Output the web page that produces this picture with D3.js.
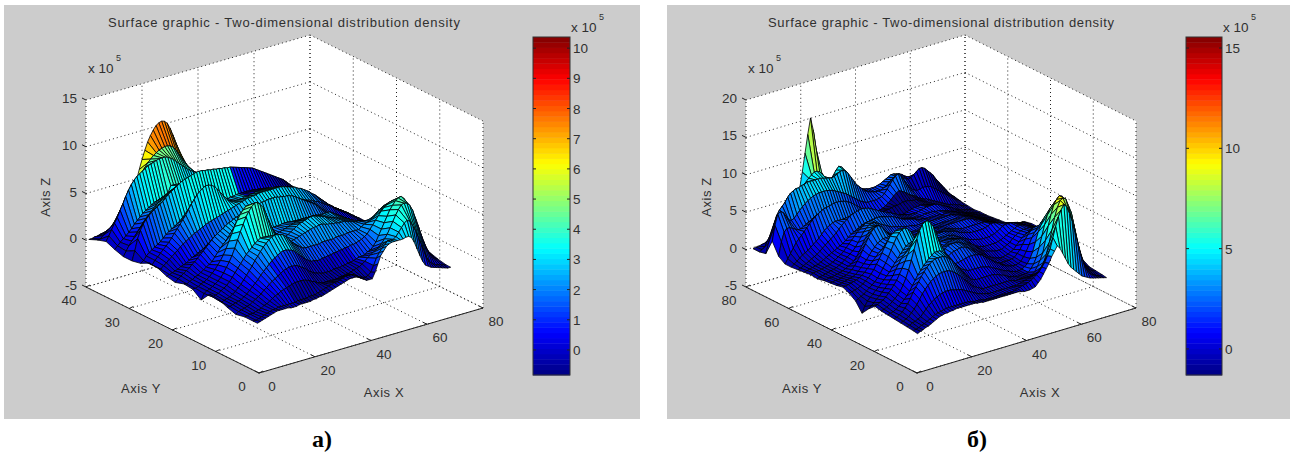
<!DOCTYPE html>
<html>
<head>
<meta charset="utf-8">
<script src="https://cdn.jsdelivr.net/npm/d3@7"></script>
<style>
  html, body { margin: 0; padding: 0; background: #fff; }
  text { font-family: "Liberation Sans", Arial, sans-serif; fill: #303030; }
</style>
</head>
<body>
<svg id="chart" width="1290" height="455"></svg>
<script>
const titleText = 'Surface graphic - Two-dimensional distribution density';
const captions = ['а)', 'б)'];

// surface a): one row per y, back to front, one value per x (1..70), in units of 10^4
const xGrid = d3.range(1, 71);
const yGridA = [40,38,36,34,32,30,28,26,24,22,20,18,16,14,12,10,8,6,4,2,1];
const zA = [
  [0,0,1,1,2,2,3,3,4,6, 8,11,14,19,24,31,39,48,59,69, 78,86,92,97,101,103,104,103,100,94, 86,77,68,58,48,40,33,28,24,21, 18,16,14,12,11,10,9,8,7,7, 6,6,5,5,4,4,3,3,3,3, 2,2,2,2,1,1,1,1,0,0],
  [4,4,7,9,11,13,16,19,23,27, 32,37,42,47,52,57,62,67,71,74, 77,79,81,82,83,83,82,80,76,71, 66,61,56,51,46,42,38,35,33,31, 29,28,26,25,24,22,21,20,18,17, 16,15,14,13,12,11,10,9,8,7, 6,6,5,4,4,3,2,2,1,0],
  [7,12,18,24,29,36,42,49,55,60, 64,67,69,71,73,75,76,77,78,79, 79,79,78,76,74,71,68,65,62,59, 57,55,53,51,49,47,45,44,43,42, 41,40,39,38,37,35,34,32,31,29, 27,26,24,22,20,19,17,15,13,11, 10,8,7,6,5,4,3,2,1,0],
  [3,6,9,12,14,17,20,24,27,30, 33,35,37,39,41,42,43,44,45,46, 54,54,53,52,50,48,46,44,43,42, 41,41,40,40,39,38,38,37,36,35, 35,34,33,32,31,30,29,28,27,26, 24,23,22,20,18,17,15,14,12,10, 9,8,7,6,5,4,3,2,1,0],
  [0,5,10,14,18,22,26,30,34,37, 40,43,46,48,50,52,54,56,57,58, 59,60,60,60,60,59,59,58,58,57, 57,56,56,55,55,54,54,53,52,51, 50,49,48,47,46,45,43,42,40,38, 36,34,32,30,27,24,22,19,16,14, 12,10,8,7,6,5,4,3,2,1],
  [0,10,22,30,36,40,43,46,48,50, 52,54,57,60,62,64,66,68,70,71, 72,73,74,75,75,75,74,74,73,73, 72,72,71,71,70,70,69,68,67,66, 65,64,63,62,60,58,56,54,52,50, 48,46,44,42,40,37,34,31,28,25, 22,19,16,14,12,10,8,6,4,2],
  [2,4,8,11,13,15,17,19,22,25, 27,29,31,33,35,37,38,39,40,40, 48,47,46,45,44,43,43,43,43,44, 44,44,45,45,46,46,46,46,46,46, 46,45,45,44,44,43,42,41,40,39, 38,37,35,34,32,30,28,26,24,22, 20,18,16,14,12,10,8,6,4,2],
  [7,4,8,11,14,17,20,23,27,31, 35,39,43,47,52,57,61,65,68,70, 72,72,71,69,66,62,58,54,50,48, 47,47,47,47,48,48,49,49,50,50, 50,50,50,50,49,49,48,47,46,45, 44,42,41,39,37,35,32,30,27,24, 22,19,17,15,13,11,9,7,5,2],
  [6,4,7,9,12,14,17,19,22,24, 26,28,30,32,33,35,36,38,39,40, 41,42,43,44,45,46,47,48,49,50, 51,52,53,53,54,54,55,55,55,55, 55,55,55,55,55,54,53,52,51,50, 48,47,45,43,41,38,36,33,30,27, 24,21,19,16,14,12,10,8,6,3],
  [2,3,4,5,6,8,9,10,12,14, 15,17,18,20,21,22,23,24,24,25, 26,27,28,30,31,33,35,36,38,40, 44,44,45,45,46,46,46,46,46,46, 46,45,45,45,44,44,43,43,42,41, 40,39,38,36,35,33,31,29,27,25, 22,20,18,16,14,12,10,8,6,4],
  [0,3,5,7,9,11,14,16,19,22, 25,28,31,34,37,39,41,43,45,47, 48,50,51,52,53,54,55,56,57,58, 58,59,59,60,60,60,60,59,59,58, 58,57,56,54,52,50,48,46,44,42, 40,37,34,31,28,25,22,20,18,16, 14,13,12,11,10,9,8,6,5,4],
  [3,2,4,5,7,8,10,12,14,16, 18,22,26,30,33,36,38,40,42,43, 43,42,40,38,36,35,34,34,34,34, 35,35,36,36,36,37,37,37,36,36, 36,35,35,34,34,33,32,31,30,30, 29,28,27,26,24,23,21,19,17,15, 13,12,11,10,10,10,11,12,14,14],
  [2,2,3,5,6,8,10,13,16,20, 24,29,35,42,49,56,62,67,71,74, 74,71,66,60,54,48,43,39,36,35, 35,36,37,38,39,40,41,42,42,43, 43,43,43,43,43,42,42,42,42,42, 40,38,36,34,32,30,28,26,24,23, 22,21,20,19,18,18,19,20,22,22],
  [-5,1,3,4,6,8,10,13,17,22, 27,33,40,48,56,63,70,75,79,82, 82,79,75,68,60,52,46,41,38,37, 37,38,40,42,44,46,47,48,49,50, 50,49,48,47,46,44,43,42,41,40, 39,38,37,35,33,31,29,28,27,27, 26,26,25,25,25,26,28,30,32,30],
  [6,2,3,4,6,8,10,13,17,21, 25,29,33,37,40,43,46,48,50,50, 50,49,47,45,42,39,37,36,36,37, 38,39,40,41,42,43,44,45,45,46, 46,45,44,44,43,43,42,42,42,41, 40,39,38,38,37,36,35,34,33,33, 33,32,31,31,31,31,30,28,26,24],
  [5,1,2,3,4,6,8,11,14,18, 22,26,30,35,39,43,47,50,53,55, 56,56,55,54,51,48,44,41,38,36, 34,33,33,33,33,33,33,34,34,34, 34,34,35,35,35,35,36,36,36,36, 36,38,40,41,42,44,47,50,52,54, 52,48,44,40,36,32,28,24,20,16],
  [1,1,2,3,4,5,7,9,12,15, 18,21,25,28,31,34,37,39,41,43, 44,44,43,42,40,37,34,31,28,26, 24,24,23,23,24,24,25,25,26,26, 27,27,28,28,29,29,30,31,32,34, 36,40,44,48,52,56,59,61,63,64, 60,54,48,42,35,28,22,17,13,9],
  [-2,0,1,2,3,4,6,8,10,12, 15,17,20,22,24,26,28,30,31,32, 32,32,31,29,27,25,22,20,18,17, 16,15,15,15,15,16,16,16,17,17, 18,18,19,20,21,21,22,24,25,28, 32,38,44,50,56,62,66,70,72,73, 70,62,52,42,32,24,17,12,8,5],
  [0,0,1,1,2,3,4,6,7,9, 11,13,14,16,17,18,19,20,21,21, 21,21,20,19,17,16,14,13,12,12, 12,12,12,12,13,13,14,14,15,16, 17,18,20,22,25,27,29,31,33,36, 40,44,50,56,62,67,71,72,71,68, 62,53,44,34,25,17,11,7,4,2],
  [0,0,1,2,3,4,5,6,6,7, 7,7,7,7,7,7,8,8,8,8, 9,9,9,10,11,12,13,14,15,16, 16,17,18,19,19,19,18,16,14,13, 12,13,16,22,29,34,38,41,44,44, 44,46,50,54,58,60,58,52,46,38, 30,22,14,9,6,4,3,2,1,0],
  [0,1,2,3,4,5,6,7,7,7, 7,7,6,6,6,7,7,7,7,7, 8,8,9,9,10,11,12,13,14,15, 16,17,18,19,19,19,18,16,14,12, 12,12,18,26,34,38,42,44,45,45, 45,45,45,46,46,44,38,30,22,15, 10,8,6,5,4,3,2,1,0,0]
];

// surface б)
const yGridB = [78,75,72,69,66,63,60,57,54,51,48,45,42,39,36,33,30,27,24,21,18,15,12,9,6,3,1];
const zB = [
  [3,4,4,5,5,6,6,7,8,9, 10,12,14,18,24,34,46,64,86,110, 134,155,138,112,84,60,42,30,23,19, 16,14,13,13,14,14,15,16,17,18, 19,20,21,22,23,24,25,26,27,27, 26,25,24,23,22,21,20,19,18,17, 16,15,14,13,11,9,8,6,5,4],
  [3,5,8,13,18,26,34,42,50,56, 60,64,66,68,70,72,74,78,82,85, 88,88,86,80,76,72,72,76,82,86, 84,76,68,60,56,52,50,48,46,45, 44,44,44,45,46,48,50,52,54,54, 53,52,50,47,44,41,37,34,31,28, 25,23,21,18,16,14,11,9,7,5],
  [5,18,30,42,52,58,62,66,72,76, 78,80,80,82,82,84,84,84,84,84, 84,83,82,81,80,81,83,85,86,84, 80,74,68,62,58,54,50,48,46,45, 44,44,44,46,48,52,54,55,56,55, 52,50,48,49,52,55,58,58,56,52, 48,44,38,33,28,23,18,13,9,6],
  [26,46,60,62,60,54,48,46,48,52, 56,60,63,66,68,70,71,72,72,72, 72,71,70,68,66,64,62,60,57,54, 51,48,45,43,41,40,40,40,40,41, 42,45,50,55,60,64,66,62,56,50, 44,40,38,36,37,38,38,37,36,33, 30,27,24,21,18,15,12,9,7,4],
  [10,28,40,44,44,42,40,38,38,40, 42,44,46,48,50,51,52,52,52,52, 52,50,48,46,44,42,40,38,36,34, 33,32,31,30,30,30,31,32,33,35, 38,41,45,48,50,48,46,43,40,38, 36,33,31,29,28,26,24,22,20,18, 16,14,12,11,10,8,7,5,4,3],
  [4,10,16,22,28,32,36,40,44,48, 52,55,58,60,62,63,64,65,66,66, 66,65,64,62,60,57,54,51,48,45, 42,40,38,36,35,35,35,36,36,37, 38,38,39,40,40,40,39,38,38,36, 34,32,30,28,26,24,22,20,18,16, 14,12,10,9,7,6,5,4,3,2],
  [4,7,10,13,16,18,20,23,26,29, 32,36,40,43,45,47,48,48,48,48, 47,46,45,44,44,43,42,40,38,36, 34,32,30,29,28,27,27,27,28,29, 30,31,32,33,34,35,35,36,35,34, 33,31,29,27,25,23,21,19,17,15, 13,11,10,8,7,6,5,4,3,3],
  [5,6,8,10,12,14,16,18,21,24, 27,30,33,36,39,43,47,50,53,56, 58,59,60,61,61,60,59,57,55,53, 51,49,47,45,44,42,40,38,37,36, 35,34,34,34,35,36,37,38,38,38, 38,37,35,33,31,29,27,25,22,20, 17,15,13,11,9,8,6,5,4,3],
  [6,7,8,9,10,11,13,15,17,19, 21,23,25,27,29,32,35,38,40,42, 44,46,47,48,48,49,49,48,47,46, 45,44,43,42,41,40,39,38,37,36, 35,35,35,35,36,36,36,36,35,35, 34,33,32,30,29,27,25,23,21,19, 17,15,13,11,10,8,7,6,5,4],
  [7,8,9,9,10,11,12,13,15,17, 20,22,25,29,33,37,41,45,48,51, 54,55,56,56,57,57,56,55,54,53, 52,50,48,46,44,43,42,41,40,38, 37,37,36,36,36,36,36,36,35,36, 36,35,34,33,31,30,28,26,23,21, 19,17,15,13,11,10,8,7,6,5],
  [6,7,8,9,10,11,12,13,15,17, 20,23,26,29,33,38,44,50,54,57, 58,58,56,54,52,50,48,46,45,44, 43,42,41,40,40,39,38,38,38,38, 38,38,38,38,38,38,38,38,38,38, 37,36,35,33,32,30,28,26,24,22, 20,18,16,14,12,11,9,8,7,6],
  [8,8,9,9,10,11,12,13,15,17, 19,22,26,32,39,46,52,57,60,60, 58,55,51,48,45,43,41,40,39,38, 38,38,38,38,38,38,38,38,38,38, 38,38,38,38,38,38,38,38,38,38, 38,38,37,36,34,32,30,28,26,24, 22,20,18,16,14,12,11,10,9,8],
  [9,9,10,10,11,12,13,15,18,22, 27,33,40,47,54,60,64,66,66,63, 58,53,49,46,43,41,40,40,40,40, 40,40,40,41,41,41,42,42,41,40, 40,40,40,40,40,40,40,40,40,40, 40,39,38,36,35,32,30,27,25,22, 20,18,16,14,13,12,12,12,12,13],
  [10,10,11,12,13,14,15,17,20,24, 28,32,37,42,46,50,52,54,54,54, 52,49,46,43,41,39,38,38,38,38, 39,40,41,42,42,42,42,42,42,42, 42,41,40,39,38,37,36,36,36,36, 36,36,36,36,36,35,34,32,30,29, 28,27,26,25,24,23,22,21,21,20],
  [12,12,13,14,15,16,18,20,23,27, 31,35,39,43,46,49,51,53,54,55, 55,53,50,47,45,43,42,42,42,43, 44,45,46,46,46,46,46,46,45,44, 43,42,40,38,37,36,35,34,34,34, 34,34,35,36,38,38,37,36,35,34, 33,32,31,30,29,27,26,25,23,22],
  [8,9,10,11,13,15,18,21,25,30, 36,42,49,56,62,68,71,73,74,73, 70,66,60,54,49,46,44,44,44,45, 45,46,46,46,46,46,46,45,44,42, 40,38,36,34,32,31,30,29,28,28, 28,28,29,30,32,34,37,38,38,38, 37,35,33,32,30,28,27,25,23,22],
  [2,4,6,8,11,14,17,20,24,29, 35,41,48,56,64,71,76,79,80,78, 74,68,61,55,49,46,44,44,45,46, 47,48,48,48,48,47,46,44,42,40, 38,35,33,30,28,26,25,24,24,24, 24,24,25,26,28,30,32,34,36,38, 38,37,36,34,32,30,28,27,25,24],
  [-10,-2,4,8,11,15,18,22,26,30, 34,39,44,49,54,58,62,64,66,65, 62,58,52,47,44,41,40,41,43,46, 48,50,51,52,52,51,50,48,45,42, 39,36,32,29,26,24,23,22,21,20, 20,20,22,24,26,30,33,35,37,38, 38,38,37,36,34,32,30,28,26,24],
  [0,3,6,10,13,17,21,25,30,35, 42,48,54,58,62,65,67,68,67,64, 60,56,50,46,44,43,44,47,50,53, 54,54,54,53,51,49,47,44,40,37, 34,31,28,25,22,20,18,17,16,16, 17,18,20,22,26,30,34,37,39,40, 40,40,38,36,34,31,28,26,24,21],
  [8,9,11,13,16,20,24,29,34,41, 48,56,64,72,80,86,90,90,88,84, 76,68,60,52,46,44,44,46,49,50, 51,52,52,51,49,46,43,39,35,32, 29,26,23,21,19,17,16,16,16,16, 17,18,22,26,32,38,43,47,50,50, 50,48,46,42,38,33,29,25,22,19],
  [6,7,9,11,14,17,21,25,32,40, 50,62,75,88,98,105,108,108,104,98, 88,78,68,58,50,44,42,40,40,41, 42,43,44,44,44,43,42,40,37,34, 31,28,25,23,20,18,16,15,14,14, 15,17,22,28,36,44,50,55,58,60, 60,58,55,50,44,38,32,26,22,18],
  [5,6,7,9,12,15,19,23,28,34, 40,46,51,56,60,64,67,70,70,70, 68,64,60,55,50,45,40,37,35,33, 32,32,32,32,32,31,30,29,27,25, 23,21,19,17,16,14,13,12,12,13, 15,18,24,32,44,56,64,72,76,78, 76,72,66,58,48,40,32,25,19,14],
  [4,5,7,10,14,19,25,32,38,44, 50,55,60,63,66,68,68,68,68,66, 63,60,55,50,45,40,35,31,27,25, 24,24,24,24,24,24,24,23,22,20, 19,17,15,14,13,12,12,12,12,13, 17,22,30,42,56,70,82,90,94,94, 90,82,72,60,48,36,26,18,12,8],
  [3,4,6,8,12,16,21,27,33,38, 42,46,49,51,53,54,54,54,53,51, 48,45,41,37,33,29,25,22,20,18, 16,16,16,16,16,16,16,16,16,16, 16,15,14,14,14,14,14,14,15,18, 24,31,40,56,74,88,100,106,110,108, 98,84,66,48,32,20,12,8,5,3],
  [2,3,5,6,8,10,14,18,22,25, 28,30,32,33,34,34,34,33,32,31, 30,28,26,24,22,20,18,17,16,15, 14,14,14,14,14,14,14,14,14,14, 14,15,16,17,18,19,20,21,23,28, 34,44,58,74,90,102,110,112,110,100, 90,72,52,36,22,14,8,5,3,2],
  [1,2,3,5,6,8,10,12,14,15, 16,17,18,18,18,18,18,18,18,18, 18,17,16,16,16,15,14,14,14,14, 14,14,14,14,14,14,14,15,16,17, 18,19,20,22,24,27,30,35,40,48, 56,70,84,96,104,110,106,96,84,68, 54,38,26,16,10,6,4,2,1,1],
  [0,2,3,5,6,8,10,12,14,15, 16,16,17,17,18,18,18,18,18,18, 18,18,17,17,16,16,16,16,16,16, 16,16,16,16,16,16,16,16,15,14, 14,14,15,16,20,24,30,36,42,50, 56,62,58,50,42,34,28,24,20,16, 12,10,8,6,5,4,3,2,1,0]
];

// the surfaces are coloured by a separate value, so height -> colour is read per plot
const heightStopsA = [0,1,2,3,4,5,6,7,7.5,8.5,10.4];
const colourStopsA = [-0.3,0.1,0.8,1.4,2.2,3,3.5,4,4.3,5.3,6];
const heightStopsB = [0,3,6,8,10,11,15.5];
const colourStopsB = [-1,0.8,2.8,4.5,6,8,8.5];
// regions whose colour differs from their height: yLo, yHi, xLo, xHi, shift
const colourBandsA = [[27,29,36,56,-2.6],[1,7,16,44,-0.8],[38.5,40,15,38,2]];
const colourBandsB = [[60,66,31,51,-3],[70,75,52,66,-2],[1,15,50,66,1.5]];

const zTicksA = [-5,0,5,10,15];
const yTicksA = [0,10,20,30,40];
const xTicks = [0,20,40,60,80];
const zTicksB = [-5,0,5,10,15,20];
const yTicksB = [0,20,40,60,80];
const barTicksA = [0,1,2,3,4,5,6,7,8,9,10];
const barTicksB = [0,5,10,15];

const jet = d3.scaleLinear()
  .domain([0, 0.125, 0.375, 0.625, 0.875, 1])
  .range(['#000080', '#0000ff', '#00ffff', '#ffff00', '#ff0000', '#800000'])
  .clamp(true);

const svg = d3.select('#chart');

/**
 * Draw one panel: grey figure, box, surface, colorbar
 * @param {Object} p Panel properties
 */
function drawPanel(p) {
  const g = svg.append('g');
  const ox = p.origin[0], oy = p.origin[1];

  g.append('rect').attr('x', p.frame[0]).attr('y', p.frame[1])
    .attr('width', p.frame[2]).attr('height', p.frame[3]).attr('fill', '#cccccc');

  // each data axis moves the point along its own screen direction
  const xToX = d3.scaleLinear().domain([0, 80]).range([0, p.xEnd[0] - ox]);
  const xToY = d3.scaleLinear().domain([0, 80]).range([0, p.xEnd[1] - oy]);
  const yToX = d3.scaleLinear().domain([0, p.yMax]).range([0, p.yEnd[0] - ox]);
  const yToY = d3.scaleLinear().domain([0, p.yMax]).range([0, p.yEnd[1] - oy]);
  const zToY = d3.scaleLinear().domain([-5, p.zMax]).range([0, -187]);
  const project = (x, y, z) => [ox + xToX(x) + yToX(y), oy + xToY(x) + yToY(y) + zToY(z)];

  // walls and floor
  const line = d3.line();
  const plane = pts => line(pts.map(d => project(d[0], d[1], d[2]))) + 'Z';
  const yM = p.yMax, zM = p.zMax;
  g.append('path').attr('fill', '#fff').attr('d', plane([[0,0,-5],[80,0,-5],[80,yM,-5],[0,yM,-5]]));
  g.append('path').attr('fill', '#fff').attr('d', plane([[0,yM,-5],[80,yM,-5],[80,yM,zM],[0,yM,zM]]));
  g.append('path').attr('fill', '#fff').attr('d', plane([[80,0,-5],[80,yM,-5],[80,yM,zM],[80,0,zM]]));

  const dotted = (a, b) => g.append('path')
    .attr('d', line([project(...a), project(...b)]))
    .attr('fill', 'none').attr('stroke', '#222').attr('stroke-width', 1)
    .attr('stroke-dasharray', '1 3');

  xTicks.forEach(t => {
    dotted([t, 0, -5], [t, yM, -5]);
    dotted([t, yM, -5], [t, yM, zM]);
  });
  p.yTicks.forEach(t => {
    dotted([0, t, -5], [80, t, -5]);
    dotted([80, t, -5], [80, t, zM]);
  });
  p.zTicks.forEach(t => {
    dotted([0, yM, t], [80, yM, t]);
    dotted([80, yM, t], [80, 0, t]);
  });

  // front axes
  const solid = (a, b) => g.append('path')
    .attr('d', line([a, b])).attr('stroke', '#222').attr('stroke-width', 1).attr('fill', 'none');
  solid(project(0, 0, -5), project(80, 0, -5));
  solid(project(0, 0, -5), project(0, yM, -5));

  xTicks.forEach(t => {
    const a = project(t, 0, -5);
    solid(a, [a[0] - 4, a[1] - 2]);
    g.append('text').attr('x', a[0] + 13).attr('y', a[1] + 18)
      .attr('text-anchor', 'middle').attr('font-size', 13.5).text(t);
  });
  p.yTicks.forEach(t => {
    const a = project(0, t, -5);
    solid(a, [a[0] + 4, a[1] - 2]);
    g.append('text').attr('x', a[0] - 17).attr('y', a[1] + 18)
      .attr('text-anchor', 'middle').attr('font-size', 13.5).text(t);
  });
  p.zTicks.forEach(t => {
    const a = project(0, yM, t);
    solid(a, [a[0] - 4, a[1] - 2]);
    g.append('text').attr('x', a[0] - 9).attr('y', a[1] + 3)
      .attr('text-anchor', 'end').attr('font-size', 13.5).text(t);
  });

  // surface, painted from the back corner towards the viewer
  const colourOf = d3.scaleLinear().domain(p.heightStops).range(p.colourStops);
  const barRange = d3.scaleLinear().domain([p.barMin, p.barMax]).range([0, 1]);
  const faces = [];
  for (let r = 0; r < p.yGrid.length - 1; r++) {
    for (let c = xGrid.length - 2; c >= 0; c--) {
      const corners = [[c, r], [c + 1, r], [c + 1, r + 1], [c, r + 1]];
      const h = d3.mean(corners, d => p.z[d[1]][d[0]]) / 10;
      const xMid = (xGrid[c] + xGrid[c + 1]) / 2;
      const yMid = (p.yGrid[r] + p.yGrid[r + 1]) / 2;
      let level = colourOf(h);
      p.bands.forEach(b => {
        if (yMid >= b[0] && yMid <= b[1] && xMid >= b[2] && xMid <= b[3]) level += b[4];
      });
      const idx = Math.max(0, Math.min(63, Math.floor(barRange(level) * 64)));
      faces.push({
        level: idx,
        pts: corners.map(d => project(xGrid[d[0]], p.yGrid[d[1]], p.z[d[1]][d[0]] / 10))
      });
    }
  }
  g.append('g').selectAll('path').data(faces).join('path')
    .attr('d', d => line(d.pts) + 'Z')
    .attr('fill', d => jet((d.level + 0.5) / 64))
    .attr('stroke', '#000').attr('stroke-width', 0.8).attr('stroke-linejoin', 'round');

  // colorbar
  const barY = d3.scaleLinear().domain([p.barMin, p.barMax]).range([375, 37]);
  const bandH = (375 - 37) / 64;
  g.append('g').selectAll('rect').data(d3.range(64)).join('rect')
    .attr('x', p.barX).attr('width', p.barW)
    .attr('y', i => 375 - (i + 1) * bandH).attr('height', bandH + 0.4)
    .attr('fill', i => jet((i + 0.5) / 64));
  g.append('rect').attr('x', p.barX).attr('y', 37).attr('width', p.barW).attr('height', 338)
    .attr('fill', 'none').attr('stroke', '#333').attr('stroke-width', 1);
  p.barTicks.forEach(t => {
    const y = barY(t);
    solid([p.barX, y], [p.barX + 3, y]);
    solid([p.barX + p.barW - 3, y], [p.barX + p.barW, y]);
    g.append('text').attr('x', p.barX + p.barW + 3).attr('y', y + 5)
      .attr('font-size', 13.5).text(t);
  });

  // scale notes, labels and title
  const note = (x, y) => {
    g.append('text').attr('x', x).attr('y', y).attr('font-size', 13.5).text('x 10');
    g.append('text').attr('x', x + 28).attr('y', y - 12).attr('font-size', 9).text('5');
  };
  note(p.noteX, 73);
  note(p.barX + p.barW + 1, 32);

  g.append('text').attr('x', p.titleX).attr('y', 27).attr('text-anchor', 'middle')
    .attr('font-size', 13).attr('textLength', p.titleW).attr('lengthAdjust', 'spacing')
    .text(titleText);
  g.append('text').attr('x', p.labelX).attr('y', 397).attr('text-anchor', 'middle')
    .attr('font-size', 13).attr('letter-spacing', 0.6).text('Axis X');
  g.append('text').attr('x', p.labelY).attr('y', 393).attr('text-anchor', 'middle')
    .attr('font-size', 13).attr('letter-spacing', 0.6).text('Axis Y');
  g.append('text').attr('text-anchor', 'middle').attr('font-size', 13).attr('letter-spacing', 0.6)
    .attr('transform', 'translate(' + p.labelZ + ',197) rotate(-90)').text('Axis Z');

  svg.append('text').attr('x', p.captionX).attr('y', 447).attr('text-anchor', 'middle')
    .style('font-family', '"Liberation Serif", serif').style('font-weight', 'bold')
    .style('fill', '#000').attr('font-size', 24).text(p.caption);
}

drawPanel({
  frame: [4, 5, 636, 414],
  origin: [259, 373], xEnd: [483, 308], yEnd: [86, 287],
  yMax: 40, zMax: 15,
  yGrid: yGridA, z: zA, bands: colourBandsA,
  heightStops: heightStopsA, colourStops: colourStopsA,
  yTicks: yTicksA, zTicks: zTicksA,
  barX: 533, barW: 37, barMin: -0.83, barMax: 10.37, barTicks: barTicksA,
  noteX: 88, titleX: 284, titleW: 352,
  labelX: 384, labelY: 141, labelZ: 50,
  captionX: 322, caption: captions[0]
});

drawPanel({
  frame: [667, 5, 623, 414],
  origin: [917, 373], xEnd: [1136, 308], yEnd: [746, 287],
  yMax: 80, zMax: 20,
  yGrid: yGridB, z: zB, bands: colourBandsB,
  heightStops: heightStopsB, colourStops: colourStopsB,
  yTicks: yTicksB, zTicks: zTicksB,
  barX: 1186, barW: 36, barMin: -1.3, barMax: 15.55, barTicks: barTicksB,
  noteX: 748, titleX: 941, titleW: 346,
  labelX: 1040, labelY: 802, labelZ: 711,
  captionX: 977, caption: captions[1]
});
</script>
</body>
</html>
